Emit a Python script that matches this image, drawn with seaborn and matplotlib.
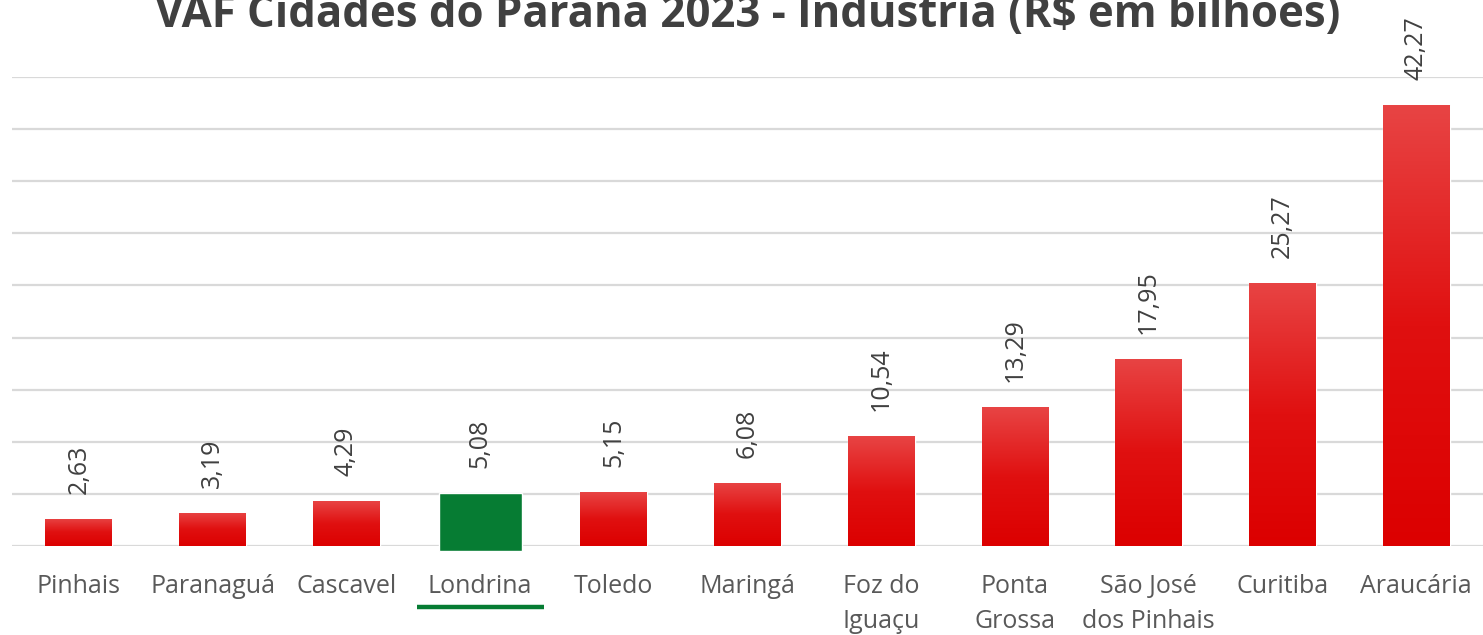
import numpy as np
import pandas as pd
import matplotlib
matplotlib.use("Agg")
import matplotlib.pyplot as plt
import matplotlib.transforms as mtransforms
from matplotlib.colors import LinearSegmentedColormap
import seaborn as sns

# dados (R$ bilhões)
cidades = ["Pinhais", "Paranaguá", "Cascavel", "Londrina", "Toledo", "Maringá",
           "Foz do\nIguaçu", "Ponta\nGrossa", "São José\ndos Pinhais", "Curitiba", "Araucária"]
valores = [2.63, 3.19, 4.29, 5.08, 5.15, 6.08, 10.54, 13.29, 17.95, 25.27, 42.27]
destaque = "Londrina"
titulo = "VAF Cidades do Paraná 2023 - Indústria (R$ em bilhões)"

VERMELHO = "#de0000"
VERDE = "#067c33"

sns.set_theme(style="white")
plt.rcParams["font.family"] = ["Open Sans", "DejaVu Sans"]

df = pd.DataFrame({"cidade": cidades, "valor": valores})
cores = {c: (VERDE if c == destaque else VERMELHO) for c in cidades}

fig = plt.figure(figsize=(14.83, 6.35), dpi=100)
ax = fig.add_axes([12 / 1483, 89 / 635, 1 - 12 / 1483, 469 / 635])

sns.barplot(data=df, x="cidade", y="valor", hue="cidade", palette=cores,
            legend=False, width=0.5, ax=ax, zorder=3, saturation=1)

ax.set_ylim(0, 45)
ax.set_xlim(-0.5, len(cidades) - 0.5)
ax.set_yticks(np.arange(0, 46, 5))
ax.yaxis.grid(True, color="#d9d9d9", linewidth=1.6, zorder=0)
ax.xaxis.grid(False)
ax.set_yticklabels([])
ax.tick_params(axis="y", length=0)
ax.tick_params(axis="x", length=0, pad=20, labelsize=18, labelcolor="#595959")
for lbl in ax.get_xticklabels():
    lbl.set_linespacing(1.55)
ax.set_xlabel("")
ax.set_ylabel("")
for s in ax.spines.values():
    s.set_visible(False)

# gradiente nas barras vermelhas, barra verde mais larga
cmap = LinearSegmentedColormap.from_list("grad", ["#dc0000", "#e01010", "#e84444"])
grad = np.linspace(0, 1, 256).reshape(-1, 1)
for i, p in enumerate(ax.patches[:len(cidades)]):
    x, w, h = p.get_x(), p.get_width(), p.get_height()
    if cidades[i] == destaque:
        cx = x + w / 2
        p.set_width(0.62)
        p.set_x(cx - 0.31)
        p.set_y(-0.5)
        p.set_height(h + 0.5)
        p.set_clip_on(False)
    else:
        im = ax.imshow(grad, extent=[x, x + w, 0, h], origin="lower", aspect="auto",
                       cmap=cmap, zorder=3.5)
        im.set_clip_path(p)
    ax.annotate(f"{valores[i]:.2f}".replace(".", ","), (x + w / 2, h),
                xytext=(0, 18), textcoords="offset points", rotation=90,
                ha="center", va="bottom", fontsize=18, color="#404040")

ax.set_xlim(-0.5, len(cidades) - 0.5)
ax.set_ylim(0, 45)

# sublinhado verde sob Londrina
k = cidades.index(destaque)
trans = mtransforms.blended_transform_factory(ax.transData, ax.transAxes)
ax.plot([k - 0.47, k + 0.48], [-0.13, -0.13], color=VERDE, lw=3.2,
        transform=trans, clip_on=False, solid_capstyle="butt")

fig.text(0.504, 1 - 27 / 635, titulo, ha="center", va="baseline",
         fontsize=31.5, fontweight="bold", color="#404040")

fig.savefig("out.png", dpi=100, facecolor="white")
